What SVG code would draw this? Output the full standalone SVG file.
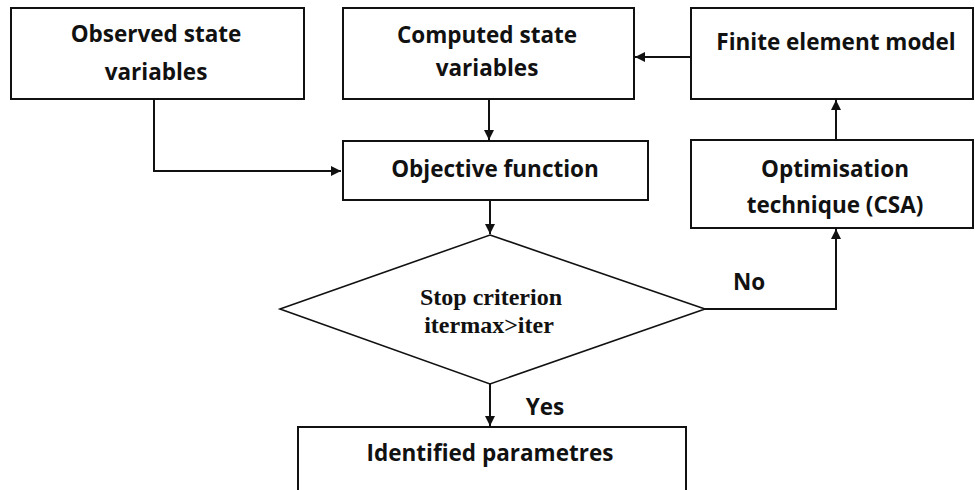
<svg xmlns="http://www.w3.org/2000/svg" width="975" height="490" viewBox="0 0 975 490">
  <style>
    .box { fill: #fff; stroke: #111; stroke-width: 2; }
    .dia { fill: #fff; stroke: #111; stroke-width: 1.6; }
    .lbl { font-family: "Open Sans", Lato, "Liberation Sans", sans-serif; font-weight: bold; font-size: 22.5px; fill: #111; text-anchor: middle; }
    .ser { font-family: "Liberation Serif", "Times New Roman", serif; font-weight: bold; font-size: 24px; fill: #111; text-anchor: middle; }
    .wire { fill: none; stroke: #111; stroke-width: 2; }
  </style>
  <defs>
    <marker id="arrow" viewBox="0 0 10 10" refX="10" refY="5" markerWidth="10" markerHeight="10" markerUnits="userSpaceOnUse" orient="auto">
      <path d="M0,0 L10,5 L0,10 Z" fill="#111"/>
    </marker>
  </defs>
  <rect width="975" height="490" fill="#fff"/>

  <g id="connectors">
    <polyline class="wire" points="154,99 154,171 341,171" marker-end="url(#arrow)"/>
    <line class="wire" x1="489" y1="99" x2="489" y2="140" marker-end="url(#arrow)"/>
    <line class="wire" x1="691" y1="57" x2="635" y2="57" marker-end="url(#arrow)"/>
    <line class="wire" x1="836" y1="140" x2="836" y2="100" marker-end="url(#arrow)"/>
    <line class="wire" x1="490" y1="200" x2="490" y2="234" marker-end="url(#arrow)"/>
    <polyline class="wire" points="705,309 836,309 836,229" marker-end="url(#arrow)"/>
    <line class="wire" x1="490" y1="384" x2="490" y2="426" marker-end="url(#arrow)"/>
  </g>

  <g id="observed">
    <rect class="box" x="11" y="8" width="293" height="91"/>
    <text class="lbl" x="156" y="42">Observed state</text>
    <text class="lbl" x="156" y="80">variables</text>
  </g>

  <g id="computed">
    <rect class="box" x="343" y="8" width="291" height="91"/>
    <text class="lbl" x="487" y="43">Computed state</text>
    <text class="lbl" x="487" y="76">variables</text>
  </g>

  <g id="finite">
    <rect class="box" x="691" y="8" width="282" height="91"/>
    <text class="lbl" x="836" y="50">Finite element model</text>
  </g>

  <g id="objective">
    <rect class="box" x="343" y="141" width="305" height="59"/>
    <text class="lbl" x="495" y="177">Objective function</text>
  </g>

  <g id="optimisation">
    <rect class="box" x="691" y="140" width="282" height="88"/>
    <text class="lbl" x="835" y="177">Optimisation</text>
    <text class="lbl" x="835" y="213">technique (CSA)</text>
  </g>

  <g id="stop">
    <polygon class="dia" points="490,235 705,309 490,384 280,309"/>
    <text class="ser" x="491" y="305">Stop criterion</text>
    <text class="ser" x="489" y="333">itermax&gt;iter</text>
  </g>

  <g id="identified">
    <rect class="box" x="298" y="427" width="388" height="70"/>
    <text class="lbl" x="490" y="461">Identified parametres</text>
  </g>

  <g id="edge-labels">
    <text class="lbl" x="749" y="290">No</text>
    <text class="lbl" x="545" y="415">Yes</text>
  </g>
</svg>
